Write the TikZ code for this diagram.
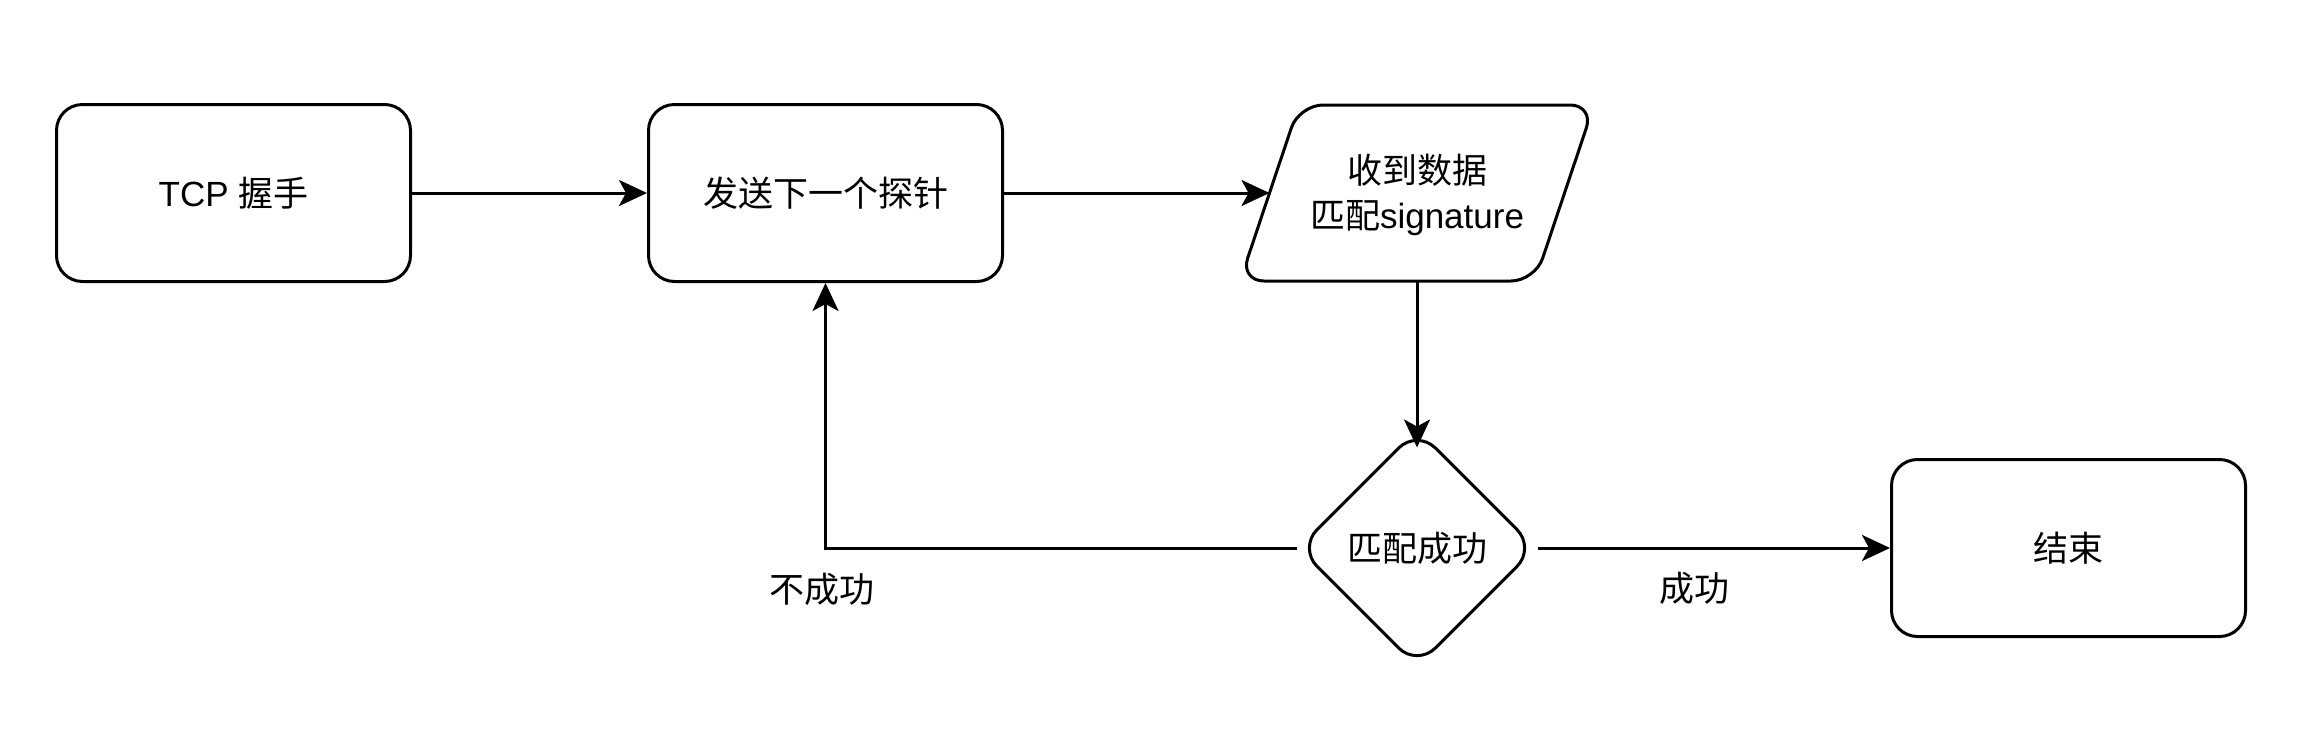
\documentclass[tikz,border=0pt]{standalone}
\usepackage{fontspec}
\setmainfont{Liberation Sans}
\newfontfamily\cjk{Noto Sans CJK SC}
\usetikzlibrary{arrows.meta,shapes.geometric,calc}
\begin{document}
\begin{tikzpicture}[x=0.5pt,y=-0.5pt,
  lbl/.style={font=\fontsize{17.5pt}{22.5pt}\selectfont},
  box/.style={draw,line width=1.5pt,rounded corners=13pt,minimum width=177pt,minimum height=88.5pt,inner sep=0pt,align=center,lbl},
  txt/.style={align=center,inner sep=0pt,lbl},
  conn/.style={line width=1.5pt,-{Stealth[length=14pt,width=13pt,inset=3.5pt]}},
  dec/.style={draw,diamond,line width=1.5pt,rounded corners=13pt,minimum width=119pt,minimum height=119pt,inner sep=0pt,aspect=1,align=center,lbl}]
\useasboundingbox (0,0) rectangle (2316,729);
\node[box] (tcp) at (233.5,193) {TCP {\cjk 握手}};
\node[box] (send) at (825.5,193) {\cjk 发送下一个探针};
\draw[line width=1.5pt,rounded corners=12pt] (1387.5,281) -- (1240,281) -- (1299,105) -- (1594,105) -- (1535,281) -- cycle;
\node[txt] (recv) at (1417,195) {{\cjk 收到数据}\\{\cjk 匹配}signature};
\coordinate (recvL) at (1269.5,193);
\coordinate (recvB) at (1417,281);
\node[dec] (match) at (1417,548) {\cjk 匹配成功};
\node[box] (end) at (2068.5,548) {\cjk 结束};
\draw[conn] (tcp) -- (send);
\draw[conn] (send) -- (recvL);
\draw[conn] (recvB) -- ([yshift=-10pt]match.north);
\draw[conn] (match.west) -| (send.south);
\draw[conn] (match.east) -- (end.west);
\node[txt] (fail) at (822,589) {\cjk 不成功};
\node[txt] (ok) at (1694,588) {\cjk 成功};
\end{tikzpicture}
\end{document}
